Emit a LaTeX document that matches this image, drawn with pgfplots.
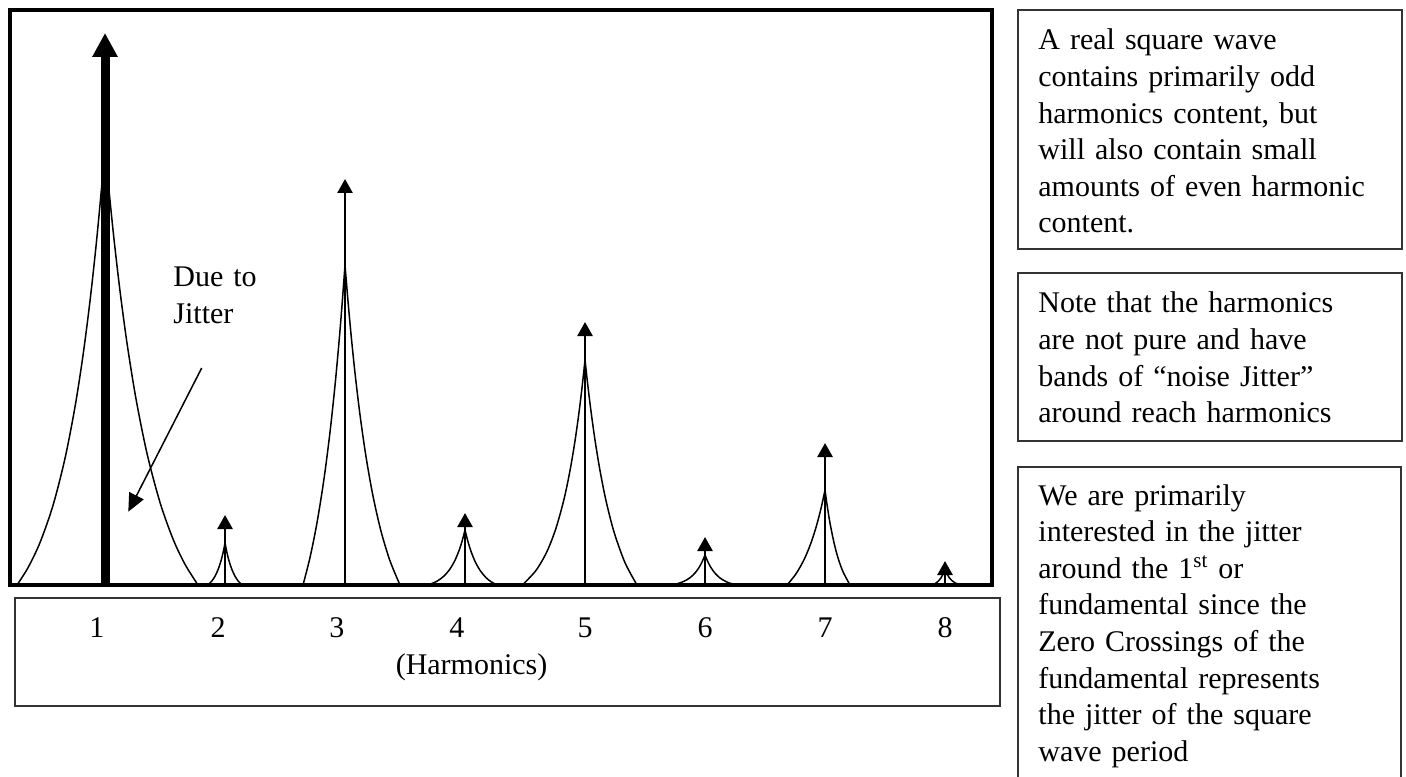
\documentclass[border=0pt]{standalone}
\usepackage{fontspec}
\setmainfont{Liberation Serif}
\usepackage{pgfplots}
\pgfplotsset{compat=1.18}
\usetikzlibrary{arrows.meta}

\newcommand\tf{\fontsize{15}{18.3}\selectfont}
\pgfplotsset{jit/.style={black, line width=0.75pt, smooth, tension=0.5}}

\begin{document}
\begin{tikzpicture}
\begin{axis}[
  at={(0,0)}, anchor=south west,
  x=60pt, y=0.5pt,
  xmin=0.2083, xmax=8.392,
  ymin=0, ymax=575,
  axis line style={line width=2.25pt, line join=miter},
  xtick={0.933,1.942,2.933,3.933,5,6,7,8},
  xticklabels={1,2,3,4,5,6,7,8},
  ytick=\empty,
  major tick length=0pt,
  xticklabel style={anchor=center, yshift=-21.5pt, inner sep=0pt},
  tick label style={font=\tf},
  /pgf/number format/assume math mode=true,
  xlabel={(Harmonics)},
  xlabel style={at={(axis description cs:0.47,0)}, anchor=center, yshift=-41pt, inner sep=0pt, font=\tf},
  clip=false,
]

% jitter bands, left and right side of each harmonic (cusp at the peak)
\addplot[jit] coordinates {(0.2667,0) (0.3583,17.3) (0.4583,42.4) (0.5667,79.6) (0.6667,126.6) (0.75,178.1) (0.8167,229.6) (0.875,284.0) (0.925,338.7) (0.9667,391.1) (1,438)};
\addplot[jit] coordinates {(1,438) (1.0333,394.7) (1.075,345.8) (1.125,294.1) (1.1833,241.9) (1.2583,186.1) (1.35,131.6) (1.4583,82.6) (1.5667,46.0) (1.6667,20.7) (1.775,0)};

\addplot[jit] coordinates {(1.8583,0) (1.8917,4.2) (1.9167,8.8) (1.9417,15.3) (1.9667,24.2) (1.9833,32.1) (2,42)};
\addplot[jit] coordinates {(2,42) (2.0167,32.1) (2.0333,24.2) (2.0583,15.3) (2.0833,8.8) (2.1083,4.2) (2.1417,0)};

\addplot[jit] coordinates {(2.65,0) (2.7083,27.5) (2.7667,62.3) (2.825,106.2) (2.875,152.9) (2.9167,199.6) (2.95,243.0) (2.975,279.6) (3,320)};
\addplot[jit] coordinates {(3,320) (3.025,283.7) (3.05,250.9) (3.0833,212.0) (3.125,170.1) (3.175,128.3) (3.2333,88.9) (3.3,53.8) (3.375,24.1) (3.4583,0)};

\addplot[jit] coordinates {(3.6917,0) (3.7667,3.8) (3.825,9.0) (3.875,16.1) (3.9167,24.8) (3.95,34.4) (3.975,43.6) (4,55)};
\addplot[jit] coordinates {(4,55) (4.025,43.2) (4.05,33.7) (4.0833,23.7) (4.125,14.7) (4.175,7.4) (4.2167,3.3) (4.2667,0)};

\addplot[jit] coordinates {(4.4775,0) (4.5917,14.6) (4.6833,33.6) (4.7583,56.9) (4.825,85.8) (4.875,114.5) (4.9167,144.2) (4.95,172.7) (4.975,197.3) (5,225)};
\addplot[jit] coordinates {(5,225) (5.025,197.9) (5.05,173.6) (5.0833,144.9) (5.125,114.4) (5.175,84.3) (5.2417,53.0) (5.3333,22.3) (5.4333,0)};

\addplot[jit] coordinates {(5.7167,0) (5.775,1.5) (5.825,3.7) (5.875,7.3) (5.9167,12.0) (5.95,17.5) (5.975,23.0) (6,30)};
\addplot[jit] coordinates {(6,30) (6.025,22.9) (6.05,17.3) (6.0833,11.8) (6.125,7.0) (6.175,3.4) (6.2167,1.5) (6.2667,0)};

\addplot[jit] coordinates {(6.6833,0) (6.7583,11.2) (6.825,25.3) (6.875,39.5) (6.9167,54.3) (6.95,68.6) (6.975,80.9) (7,95)};
\addplot[jit] coordinates {(7,95) (7.0167,80.4) (7.0417,61.8) (7.075,42.2) (7.1083,27.1) (7.15,13.2) (7.2083,0)};

\addplot[jit] coordinates {(7.8917,0) (7.9167,1.3) (7.9417,3.6) (7.9667,7.2) (7.9833,10.9) (8,16)};
\addplot[jit] coordinates {(8,16) (8.0167,11.2) (8.0333,7.7) (8.0583,4.3) (8.0833,2.2) (8.1083,0.9) (8.1417,0)};

% harmonic lines
\addplot[quiver={u=0,v=\thisrow{h}}, line width=4.5pt,
  -{Triangle[width=12pt,length=12pt]}] table {
x y h
1 0 552
};
\addplot[quiver={u=0,v=\thisrow{h}}, line width=1.3pt,
  -{Triangle[width=7.5pt,length=7pt]}] table {
x y h
2 0 70
3 0 406
4 0 72
5 0 263
6 0 48
7 0 142
8 0 24
};
\end{axis}

% text boxes, in pixel units of the reference
\begin{scope}[x=0.5pt, y=-0.5pt, shift={(-5pt,292.5pt)}]
  \draw[black!80, line width=0.9pt] (15,598) rectangle (1000,706);
  \draw[black!80, line width=0.9pt] (1018,10) rectangle (1402,249);
  \draw[black!80, line width=0.9pt] (1018,273) rectangle (1402,441);
  \draw[black!80, line width=0.9pt] (1018,800) -- (1018,467) -- (1401,467) -- (1401,800);

  \node[anchor=base west, text width=60pt, align=left, inner sep=0pt, font=\tf]
    at (173,287) {Due to\\Jitter};
  \draw[line width=0.75pt, -{Triangle[width=8pt,length=9pt]}] (201.7,368) -- (128.3,511.7);

  \node[anchor=base west, text width=200pt, align=left, inner sep=0pt, font=\tf]
    at (1038,50) {A real square wave\\contains primarily odd\\harmonics content, but\\will also contain small\\amounts of even harmonic\\content.};
  \node[anchor=base west, text width=200pt, align=left, inner sep=0pt, font=\tf]
    at (1038,313) {Note that the harmonics\\are not pure and have\\bands of “noise Jitter”\\around reach harmonics};
  \node[anchor=base west, text width=200pt, align=left, inner sep=0pt, font=\tf]
    at (1038,505) {We are primarily\\interested in the jitter\\around the 1\textsuperscript{st} or\\fundamental since the\\Zero Crossings of the\\fundamental represents\\the jitter of the square\\wave period};
\end{scope}

\pgfresetboundingbox
\path[use as bounding box] (-5pt,292.5pt) rectangle (698pt,-95.5pt);
\end{tikzpicture}
\end{document}
